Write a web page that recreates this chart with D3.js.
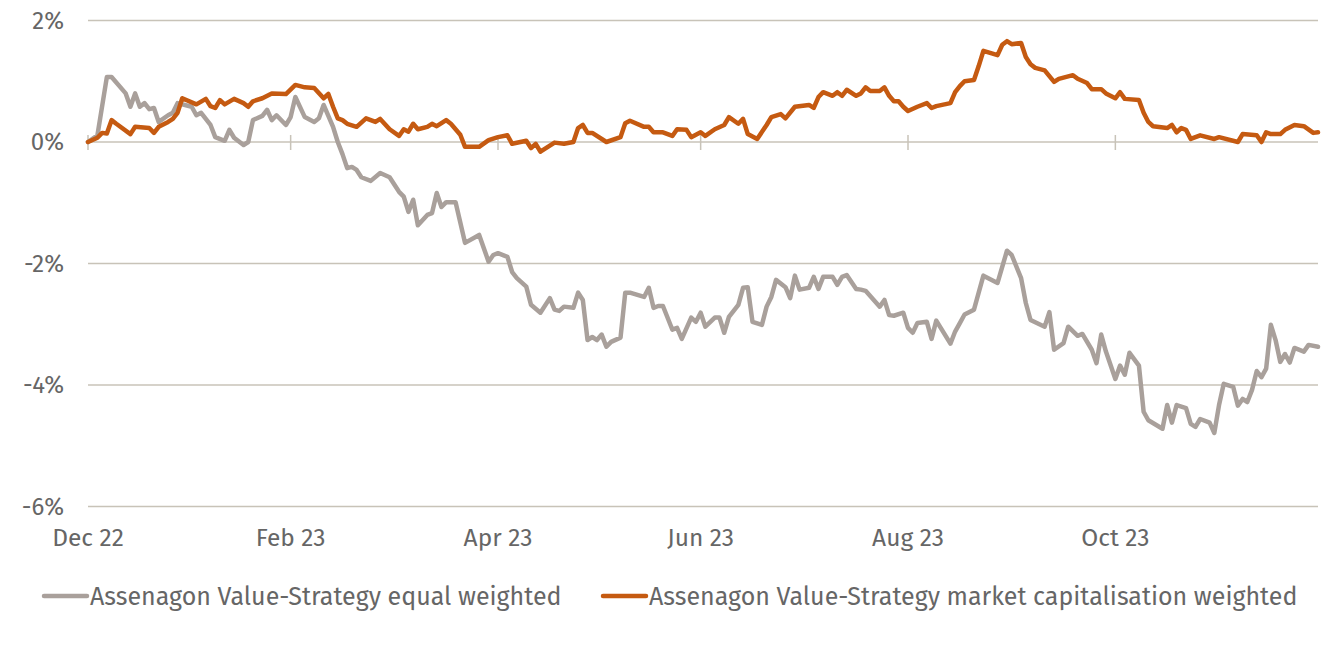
<!DOCTYPE html>
<html>
<head>
<meta charset="utf-8">
<script src="https://cdn.jsdelivr.net/npm/d3@7"></script>
<style>
  html, body { margin: 0; padding: 0; background: #fff; }
  svg { display: block; }
  text { font-family: "Fira Sans", "Noto Sans", sans-serif; fill: #666; }
</style>
</head>
<body>
<svg id="chart" width="1335" height="646"></svg>
<script>
// trading-day index (0 = first trading day of Dec 2022, 261 = end of Nov 2023)
const totalDays = 261;
const tickDays = [0, 43, 87, 130, 174, 218];
const tickLabels = ["Dec 22", "Feb 23", "Apr 23", "Jun 23", "Aug 23", "Oct 23"];
const yTicks = [2, 0, -2, -4, -6];

const seriesNames = [
  "Assenagon Value-Strategy equal weighted",
  "Assenagon Value-Strategy market capitalisation weighted"
];

const equalDays = [0,2,4,5,8,9,10,11,12,13,14,15,17,18,19,22,23,24,26,27,29,30,31,33,34,35,37,38,39,40,42,43,44,46,48,49,50,52,53,54,55,56,57,58,60,62,64,66,67,68,69,70,72,73,74,75,76,78,80,83,85,86,87,89,90,91,93,94,96,98,99,100,101,103,104,105,106,107,108,109,110,111,113,114,115,118,119,120,121,122,124,125,126,128,129,130,131,133,134,135,136,138,139,140,141,143,144,145,146,148,149,150,151,153,154,155,156,158,159,160,161,163,164,165,168,169,170,171,173,174,175,176,178,179,180,183,184,185,186,188,189,190,193,195,196,198,199,200,203,204,205,207,208,210,211,213,214,215,216,218,219,220,221,223,224,225,228,229,230,231,233,234,235,236,238,239,240,241,243,244,245,246,247,248,249,250,251,252,253,254,255,256,258,259,261];
const equalValues = [0,0.11,1.07,1.07,0.8,0.58,0.8,0.58,0.64,0.54,0.56,0.33,0.44,0.48,0.64,0.58,0.44,0.48,0.28,0.08,0.02,0.2,0.07,-0.05,0,0.36,0.43,0.53,0.36,0.44,0.28,0.41,0.74,0.41,0.33,0.39,0.61,0.25,0.0,-0.2,-0.43,-0.41,-0.46,-0.58,-0.64,-0.51,-0.58,-0.82,-0.9,-1.15,-0.95,-1.37,-1.2,-1.17,-0.84,-1.07,-0.99,-0.99,-1.66,-1.53,-1.97,-1.86,-1.83,-1.89,-2.14,-2.24,-2.38,-2.68,-2.81,-2.57,-2.76,-2.78,-2.71,-2.73,-2.48,-2.6,-3.26,-3.21,-3.26,-3.17,-3.37,-3.29,-3.22,-2.48,-2.48,-2.55,-2.4,-2.73,-2.7,-2.7,-3.09,-3.06,-3.24,-2.89,-2.96,-2.81,-3.04,-2.89,-2.89,-3.14,-2.88,-2.68,-2.4,-2.39,-2.96,-3.01,-2.71,-2.55,-2.27,-2.39,-2.57,-2.2,-2.43,-2.4,-2.22,-2.42,-2.22,-2.22,-2.35,-2.22,-2.19,-2.42,-2.43,-2.45,-2.71,-2.6,-2.85,-2.86,-2.81,-3.06,-3.14,-2.98,-2.96,-3.24,-2.94,-3.32,-3.12,-2.98,-2.84,-2.76,-2.48,-2.2,-2.32,-1.79,-1.86,-2.24,-2.65,-2.93,-3.04,-2.8,-3.42,-3.31,-3.04,-3.19,-3.16,-3.42,-3.64,-3.17,-3.45,-3.9,-3.68,-3.83,-3.47,-3.68,-4.44,-4.58,-4.72,-4.33,-4.62,-4.33,-4.38,-4.64,-4.69,-4.56,-4.62,-4.79,-4.33,-3.98,-4.03,-4.34,-4.23,-4.28,-4.08,-3.77,-3.87,-3.73,-3.01,-3.26,-3.62,-3.49,-3.63,-3.39,-3.45,-3.34,-3.37];

const capDays = [0,2,3,4,5,6,9,10,13,14,15,17,18,19,20,23,25,26,27,28,29,31,33,34,35,37,39,42,44,46,48,50,51,52,53,54,55,57,59,61,62,64,66,67,68,69,70,72,73,74,76,77,79,80,83,85,87,89,90,93,94,95,96,99,101,103,104,105,106,107,110,113,114,115,118,119,120,122,124,125,127,128,130,131,133,135,136,138,139,140,142,144,145,147,148,150,153,154,155,156,158,159,160,161,163,164,165,166,168,169,170,171,172,173,174,176,178,179,180,183,184,185,186,188,189,190,193,194,195,196,198,199,200,201,203,205,206,209,210,212,213,215,216,218,219,220,223,224,225,226,229,230,231,232,233,234,236,239,240,244,245,248,249,250,251,253,254,256,258,260,261];
const capValues = [0,0.07,0.15,0.14,0.36,0.3,0.13,0.25,0.23,0.15,0.25,0.33,0.38,0.48,0.72,0.62,0.71,0.59,0.56,0.69,0.62,0.71,0.64,0.58,0.67,0.72,0.8,0.79,0.94,0.9,0.89,0.72,0.79,0.58,0.39,0.36,0.3,0.25,0.39,0.33,0.38,0.21,0.1,0.21,0.17,0.3,0.21,0.25,0.3,0.26,0.36,0.3,0.12,-0.08,-0.08,0.03,0.08,0.11,-0.03,0.02,-0.1,-0.03,-0.16,-0.01,-0.03,0.0,0.23,0.28,0.15,0.15,0.0,0.08,0.31,0.35,0.25,0.25,0.16,0.16,0.1,0.21,0.2,0.08,0.16,0.1,0.21,0.28,0.41,0.3,0.38,0.13,0.05,0.28,0.41,0.46,0.39,0.58,0.61,0.56,0.74,0.82,0.76,0.82,0.76,0.86,0.76,0.8,0.9,0.84,0.84,0.9,0.76,0.67,0.67,0.58,0.51,0.58,0.64,0.56,0.59,0.64,0.82,0.92,1.0,1.02,1.25,1.5,1.43,1.6,1.66,1.61,1.63,1.4,1.28,1.22,1.18,0.99,1.04,1.1,1.04,0.97,0.87,0.87,0.8,0.72,0.82,0.71,0.69,0.48,0.33,0.26,0.23,0.28,0.16,0.23,0.2,0.05,0.11,0.05,0.08,0.0,0.13,0.11,0.0,0.16,0.13,0.13,0.2,0.28,0.26,0.15,0.16];

const colors = ["#a9a09b", "#c55a11"];
const gridColor = "#c8c3b8";

const svg = d3.select("#chart");
const x = d3.scaleLinear().domain([0, totalDays]).range([88, 1318]);
const y = d3.scaleLinear().domain([-6, 2]).range([506.5, 20.5]);

// horizontal gridlines
svg.append("g").selectAll("line").data(yTicks).join("line")
  .attr("x1", x(0)).attr("x2", x(totalDays))
  .attr("y1", d => y(d)).attr("y2", d => y(d))
  .attr("stroke", gridColor).attr("stroke-width", 1.5);

// y labels
svg.append("g").selectAll("text").data(yTicks).join("text")
  .attr("x", 64).attr("y", d => y(d)).attr("dy", "0.35em")
  .attr("text-anchor", "end").attr("font-size", 24)
  .text(d => d + "%");

// x ticks on zero line
svg.append("g").selectAll("line").data(tickDays).join("line")
  .attr("x1", d => x(d)).attr("x2", d => x(d))
  .attr("y1", y(0) - 7).attr("y2", y(0) + 8)
  .attr("stroke", gridColor).attr("stroke-width", 1.5);

// x labels
svg.append("g").selectAll("text").data(tickDays).join("text")
  .attr("x", d => x(d)).attr("y", 546)
  .attr("text-anchor", "middle").attr("font-size", 24.5)
  .text((d, i) => tickLabels[i]);

const line = d3.line().x(d => x(d[0])).y(d => y(d[1]));
const series = [
  d3.zip(equalDays, equalValues),
  d3.zip(capDays, capValues)
];

series.forEach((s, i) => {
  svg.append("path").datum(s)
    .attr("fill", "none").attr("stroke", colors[i])
    .attr("stroke-width", 4.5).attr("stroke-linejoin", "round").attr("stroke-linecap", "round")
    .attr("d", line);
});

// legend
const legendX = [44, 603];
const lg = svg.append("g");
seriesNames.forEach((name, i) => {
  lg.append("line")
    .attr("x1", legendX[i]).attr("x2", legendX[i] + 43)
    .attr("y1", 596).attr("y2", 596)
    .attr("stroke", colors[i]).attr("stroke-width", 4.5).attr("stroke-linecap", "round");
  lg.append("text")
    .attr("x", legendX[i] + 46).attr("y", 596).attr("dy", "0.35em")
    .attr("font-size", 25).text(name);
});
</script>
</body>
</html>
